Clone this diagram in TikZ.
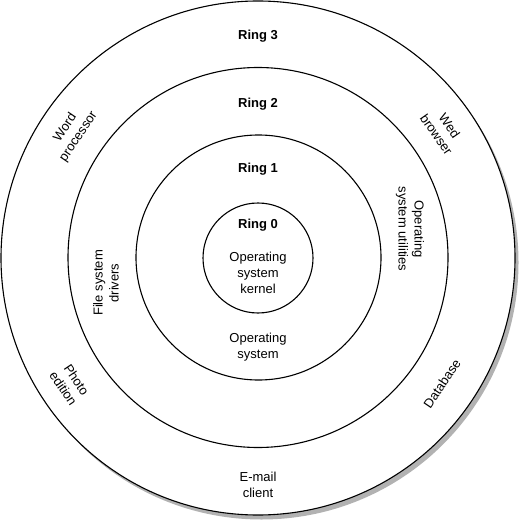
\documentclass[tikz,border=0pt]{standalone}
\usepackage{fontspec}
\setmainfont{Liberation Sans}
\begin{document}
\begin{tikzpicture}[x=1pt,y=-1pt,
  ring/.style={draw=black,line width=1.1pt},
  lbl/.style={font=\fontsize{13}{16}\selectfont,align=center,inner sep=0pt},
  title/.style={font=\fontsize{13}{16}\selectfont\bfseries,inner sep=0pt}]
\useasboundingbox (0,0) rectangle (519,521);
% shadow of the outer ring
\fill[gray!60] (261.5,262.5) circle (257);
\filldraw[ring,fill=white] (258,258) circle (257);
\draw[ring] (258,257.5) circle (190);
\draw[ring] (258.5,257.5) circle (122.5);
\draw[ring] (258,258) circle (55);
% ring titles
\node[title] (r3) at (258,36) {Ring 3};
\node[title] (r2) at (258,104) {Ring 2};
\node[title] (r1) at (258,169) {Ring 1};
\node[title] (r0) at (258,225) {Ring 0};
% ring 0
\node[lbl] (kernel) at (258,273) {Operating\\system\\kernel};
% ring 1
\node[lbl] (os) at (258,347) {Operating\\system};
% ring 2
\node[lbl,rotate=90] (fsd) at (106,283) {File system\\drivers};
\node[lbl,rotate=-90] (osu) at (410,229) {Operating\\system utilities};
% ring 3
\node[lbl,rotate=56] (word) at (72,132) {Word\\processor};
\node[lbl,rotate=-55] (web) at (443,130) {Wed\\browser};
\node[lbl,rotate=-56] (photo) at (70,384) {Photo\\edition};
\node[lbl,rotate=56] (db) at (442,384) {Database};
\node[lbl] (mail) at (258,485) {E-mail\\client};
\end{tikzpicture}
\end{document}
